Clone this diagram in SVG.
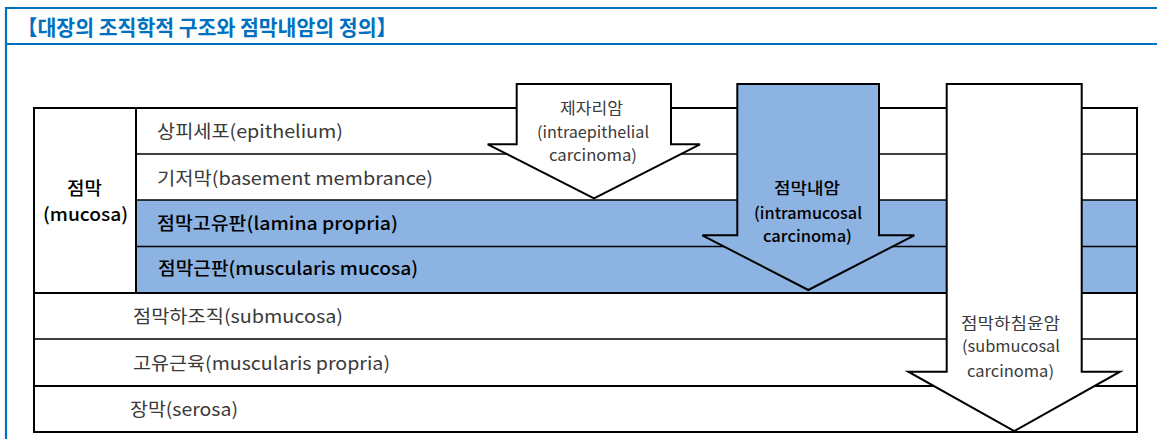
<svg xmlns="http://www.w3.org/2000/svg" width="1157" height="439" viewBox="0 0 1157 439">
<style>
.frame{stroke:#0070C0;stroke-width:2.2;fill:none}
.title{font-family:"Noto Sans CJK KR","Noto Sans",sans-serif;font-size:21px;font-weight:bold;fill:#0070C0}
.t{font-family:"Noto Sans CJK KR","Noto Sans",sans-serif;font-size:18px;fill:#3a3a3a;dominant-baseline:central}
.tb{font-family:"Noto Sans CJK KR","Noto Sans",sans-serif;font-size:18px;fill:#000;font-weight:500;dominant-baseline:central}
.s{font-size:16px}
.line{stroke:#000;stroke-width:1.5;fill:none}
.bold{stroke:#000;stroke-width:2;fill:none}
.blue{fill:#8DB3E2}
.arrW{fill:#fff;stroke:#000;stroke-width:2;stroke-linejoin:miter}
.arrB{fill:#8DB3E2;stroke:#000;stroke-width:2;stroke-linejoin:miter}
</style>
<rect width="1157" height="439" fill="#fff"/>
<g id="frame">
<line class="frame" x1="5" y1="8" x2="1157" y2="8"/>
<line class="frame" x1="5" y1="44" x2="1157" y2="44"/>
<line class="frame" x1="6" y1="7" x2="6" y2="439"/>
<text class="title" x="17" y="35" textLength="380" lengthAdjust="spacingAndGlyphs">【대장의 조직학적 구조와 점막내암의 정의】</text>
</g>
<g id="table">
<rect class="blue" x="136" y="200" width="1002" height="93"/>
<line class="line" x1="136" y1="154" x2="1137" y2="154"/>
<line class="line" x1="136" y1="200" x2="1137" y2="200"/>
<line class="line" x1="136" y1="246.5" x2="1137" y2="246.5"/>
<line class="bold" x1="34" y1="293" x2="1137" y2="293"/>
<line class="line" x1="34" y1="339" x2="1137" y2="339"/>
<line class="bold" x1="34" y1="386" x2="1137" y2="386"/>
<rect class="bold" x="34" y="108" width="1103" height="324"/>
<line class="bold" x1="136" y1="108" x2="136" y2="293"/>
</g>
<g id="mucosa">
<text class="tb" x="67" y="187" textLength="35" lengthAdjust="spacingAndGlyphs">점막</text>
<text class="tb" x="43" y="213" textLength="85" lengthAdjust="spacingAndGlyphs">(mucosa)</text>
</g>
<g id="row-epithelium"><text class="t" x="157" y="130" textLength="186" lengthAdjust="spacingAndGlyphs">상피세포(epithelium)</text></g>
<g id="row-basement"><text class="t" x="157" y="177" textLength="276" lengthAdjust="spacingAndGlyphs">기저막(basement membrance)</text></g>
<g id="row-lamina"><text class="tb" x="157" y="222" textLength="241" lengthAdjust="spacingAndGlyphs">점막고유판(lamina propria)</text></g>
<g id="row-muscularis-mucosa"><text class="tb" x="158" y="267" textLength="260" lengthAdjust="spacingAndGlyphs">점막근판(muscularis mucosa)</text></g>
<g id="row-submucosa"><text class="t" x="133" y="315" textLength="210" lengthAdjust="spacingAndGlyphs">점막하조직(submucosa)</text></g>
<g id="row-muscularis-propria"><text class="t" x="133" y="362" textLength="257" lengthAdjust="spacingAndGlyphs">고유근육(muscularis propria)</text></g>
<g id="row-serosa"><text class="t" x="130" y="408" textLength="108" lengthAdjust="spacingAndGlyphs">장막(serosa)</text></g>
<g id="connectors">
<polygon id="arrow-intraepithelial" class="arrW" points="516.7,84 671,84 671,144.3 700,144.3 594,198.3 487.7,144.3 516.7,144.3"/>
<polygon id="arrow-intramucosal" class="arrB" points="737.3,84 879,84 879,235.3 914.3,235.3 808.3,290 702.3,235.3 737.3,235.3"/>
<polygon id="arrow-submucosal" class="arrW" points="946.7,84 1081.7,84 1081.7,371.7 1120,371.7 1014.3,431 908.3,371.7 946.7,371.7"/>
</g>
<g id="label-intraepithelial">
<text class="t s" x="560" y="107" textLength="63" lengthAdjust="spacingAndGlyphs">제자리암</text>
<text class="t s" x="537" y="131" textLength="112" lengthAdjust="spacingAndGlyphs">(intraepithelial</text>
<text class="t s" x="549" y="154" textLength="88" lengthAdjust="spacingAndGlyphs">carcinoma)</text>
</g>
<g id="label-intramucosal">
<text class="tb s" x="774" y="187" textLength="66" lengthAdjust="spacingAndGlyphs">점막내암</text>
<text class="tb s" x="754" y="212" textLength="108" lengthAdjust="spacingAndGlyphs">(intramucosal</text>
<text class="tb s" x="763" y="235" textLength="89" lengthAdjust="spacingAndGlyphs">carcinoma)</text>
</g>
<g id="label-submucosal">
<text class="t s" x="961" y="322" textLength="99" lengthAdjust="spacingAndGlyphs">점막하침윤암</text>
<text class="t s" x="962" y="345" textLength="98" lengthAdjust="spacingAndGlyphs">(submucosal</text>
<text class="t s" x="967" y="370" textLength="87" lengthAdjust="spacingAndGlyphs">carcinoma)</text>
</g>
</svg>
